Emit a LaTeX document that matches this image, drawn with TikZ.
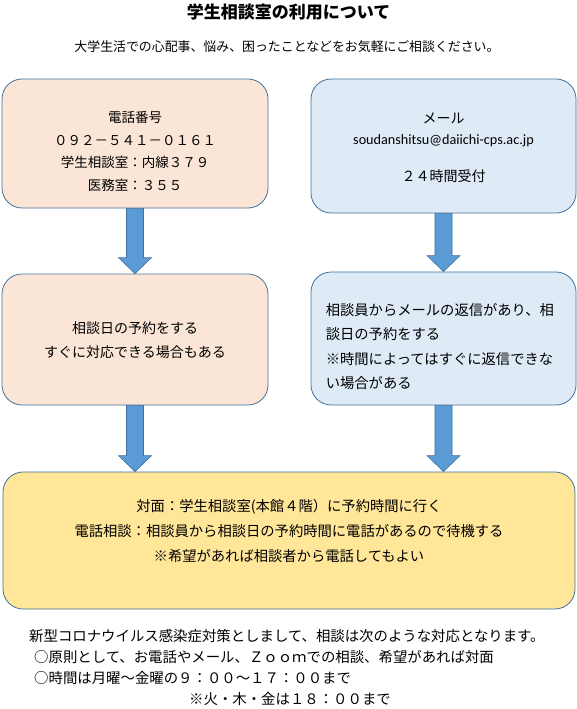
\documentclass[tikz,border=0pt]{standalone}
\usepackage{fontspec}
\setmainfont{Noto Sans CJK JP}
\newfontfamily\mailfont{Carlito}
\usepackage{xcolor}
\usetikzlibrary{positioning, calc}
\definecolor{boxline}{RGB}{65,113,156}
\definecolor{telfill}{RGB}{251,229,214}
\definecolor{mailfill}{RGB}{222,235,247}
\definecolor{visitfill}{RGB}{255,230,153}
\definecolor{arrowfill}{RGB}{91,155,213}

\newcommand{\fatarrow}[2]{%
  \coordinate (tip) at (#1.south |- #2.north);
  \draw[fat arrow] ($(#1.south)+(-8.5,0)$) -- ($(tip)+(-8.5,-16)$) -- ($(tip)+(-16.5,-16)$)
    -- (tip) -- ($(tip)+(16.5,-16)$) -- ($(tip)+(8.5,-16)$) -- ($(#1.south)+(8.5,0)$) -- cycle;
}

\begin{document}
\begin{tikzpicture}[
  x=1pt, y=-1pt,
  font=\fontsize{14}{24}\selectfont,
  box/.style={draw=boxline, line width=0.8pt, rounded corners=20pt, inner sep=0pt},
  boxtext/.style={align=center, inner sep=0pt},
  note/.style={anchor=west, inner sep=0pt, font=\fontsize{14.4}{20}\selectfont},
  fat arrow/.style={draw=boxline, line width=0.6pt, fill=arrowfill}
]
\useasboundingbox (0,0) rectangle (577,709);

\node[inner sep=0pt, font=\fontsize{17}{20}\selectfont\bfseries] (title) at (288.5,12) {学生相談室の利用について};
\node[inner sep=0pt, font=\fontsize{12.9}{15}\selectfont] (intro) at (287,47) {大学生活での心配事、悩み、困ったことなどをお気軽にご相談ください。};

\node[box, fill=telfill, minimum width=266pt, minimum height=129pt] (tel) at (135,143.5) {};
\node[box, fill=mailfill, minimum width=265pt, minimum height=134pt] (mail) at (443.5,146) {};
\node[box, fill=telfill, minimum width=266pt, minimum height=131pt] (telResv) at (135,339.5) {};
\node[box, fill=mailfill, minimum width=265pt, minimum height=133pt] (mailResv) at (443.5,338.5) {};
\node[box, fill=visitfill, minimum width=572pt, minimum height=137pt] (visit) at (289,540.5) {};

\node[boxtext, font=\fontsize{13.5}{22.5}\selectfont] (telText) at ($(tel.center)+(0,8)$)
  {電話番号\\０９２－５４１－０１６１\\学生相談室：内線３７９\\医務室：３５５};
\node[boxtext, font=\fontsize{14}{21}\selectfont] (mailText) at ($(mail.center)+(0,2)$)
  {メール\\{\mailfont\fontsize{14.2}{21}\selectfont soudanshitsu@daiichi-cps.ac.jp}\\[16pt]２４時間受付};
\node[boxtext] (telResvText) at ($(telResv.center)+(0,0.5)$)
  {相談日の予約をする\\すぐに対応できる場合もある};
\node[boxtext, align=left, anchor=west, font=\fontsize{14.3}{24.5}\selectfont] (mailResvText) at ($(mailResv.west)+(15,8)$)
  {相談員からメールの返信があり、相\\談日の予約をする\\※時間によってはすぐに返信できな\\い場合がある};
\node[boxtext, font=\fontsize{14.3}{25}\selectfont] (visitText) at ($(visit.center)+(0,-9.5)$)
  {対面：学生相談室(本館４階）に予約時間に行く\\電話相談：相談員から相談日の予約時間に電話があるので待機する\\※希望があれば相談者から電話してもよい};

\fatarrow{tel}{telResv}
\fatarrow{mail}{mailResv}
\fatarrow{telResv}{visit}
\fatarrow{mailResv}{visit}

\node[note] (covid) at (29,636) {新型コロナウイルス感染症対策としまして、相談は次のような対応となります。};
\node[note] (rule) at (34,657) {○原則として、お電話やメール、Ｚｏｏｍでの相談、希望があれば対面};
\node[note] (hours) at (34,678) {○時間は月曜～金曜の９：００～１７：００まで};
\node[note] (late) at (189,699) {※火・木・金は１８：００まで};
\end{tikzpicture}
\end{document}
